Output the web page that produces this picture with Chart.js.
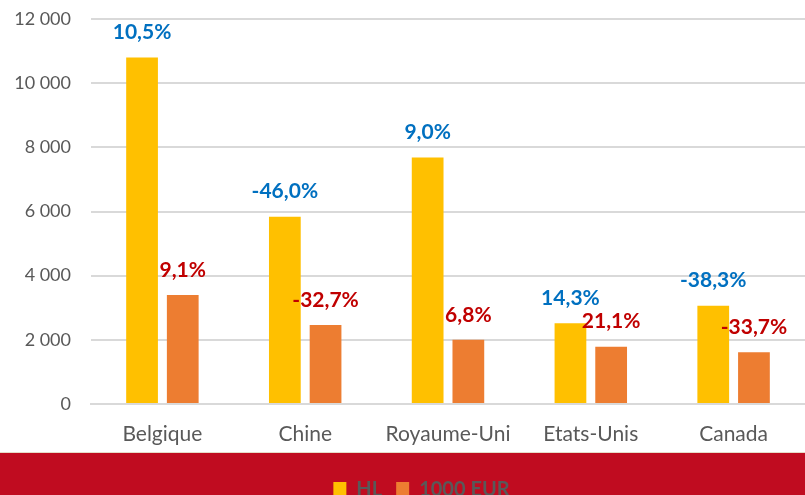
<!DOCTYPE html>
<html>
<head>
<meta charset="utf-8">
<script src="https://cdn.jsdelivr.net/npm/chart.js@4/dist/chart.umd.min.js"></script>
<style>
  html, body { margin: 0; padding: 0; width: 805px; height: 495px; overflow: hidden; background: #fff; }
  #wrap { width: 805px; height: 510px; position: relative; }
</style>
</head>
<body>
<div id="wrap"><canvas id="c"></canvas></div>
<script>
const categories = ['Belgique', 'Chine', 'Royaume-Uni', 'Etats-Unis', 'Canada'];
const hlValues = [10800, 5840, 7680, 2515, 3065];
const eurValues = [3400, 2460, 2000, 1785, 1610];
const hlLabels = ['10,5%', '-46,0%', '9,0%', '14,3%', '-38,3%'];
const eurLabels = ['9,1%', '-32,7%', '6,8%', '21,1%', '-33,7%'];
const seriesNames = ['HL', '1000 EUR'];

const bandPlugin = {
  id: 'band',
  afterLayout(chart) {
    // let the y tick labels use the whole left margin (avoid clipping)
    chart.scales.y.left = 0;
  },
  beforeDraw(chart) {
    const ctx = chart.ctx;
    ctx.save();
    ctx.fillStyle = '#C00C20';
    ctx.fillRect(0, 452, chart.width, chart.height - 452);
    ctx.fillStyle = '#E6DCC8';
    ctx.fillRect(0, 452, chart.width, 1);
    ctx.restore();
  }
};

const labelPlugin = {
  id: 'valueLabels',
  afterDatasetsDraw(chart) {
    const ctx = chart.ctx;
    const sets = [
      { labels: hlLabels, color: '#0070C0' },
      { labels: eurLabels, color: '#C00000' }
    ];
    ctx.save();
    ctx.font = 'bold 21px Lato';
    ctx.textAlign = 'center';
    ctx.textBaseline = 'middle';
    sets.forEach((s, di) => {
      const meta = chart.getDatasetMeta(di);
      meta.data.forEach((bar, i) => {
        ctx.fillStyle = s.color;
        ctx.fillText(s.labels[i], bar.x, bar.y - 25);
      });
    });
    ctx.restore();
  }
};

new Chart(document.getElementById('c'), {
  type: 'bar',
  data: {
    labels: categories,
    datasets: [
      { label: seriesNames[0], data: hlValues, backgroundColor: '#FFC000',
        categoryPercentage: 0.57, barPercentage: 0.78 },
      { label: seriesNames[1], data: eurValues, backgroundColor: '#ED7D31',
        categoryPercentage: 0.57, barPercentage: 0.78 }
    ]
  },
  options: {
    responsive: true,
    maintainAspectRatio: false,
    animation: false,
    layout: { padding: { top: 19, right: 0, left: 38, bottom: 0 } },
    plugins: {
      tooltip: { enabled: false },
      legend: {
        position: 'bottom',
        labels: {
          font: { family: 'Lato', size: 20, weight: 'bold' },
          color: '#595959',
          boxWidth: 13,
          boxHeight: 16,
          padding: 14
        }
      }
    },
    scales: {
      y: {
        min: 0, max: 12000,
        ticks: {
          stepSize: 2000,
          padding: 20,
          color: '#595959',
          font: { family: 'Lato', size: 18 },
          callback: v => v === 0 ? '0' : String(v).replace(/\B(?=(\d{3})+(?!\d))/g, ' ')
        },
        grid: { color: '#D9D9D9', lineWidth: 2, drawTicks: false },
        border: { display: false },
        afterFit(scale) { scale.width = 53; scale.paddingTop = 0; scale.paddingBottom = 0; }
      },
      x: {
        ticks: {
          padding: 18,
          color: '#595959',
          font: { family: 'Lato', size: 21 }
        },
        grid: { display: false, drawTicks: false },
        border: { display: true, color: '#D9D9D9', width: 2 },
        afterFit(scale) { scale.height = 62; }
      }
    }
  },
  plugins: [bandPlugin, labelPlugin]
});
</script>
</body>
</html>
